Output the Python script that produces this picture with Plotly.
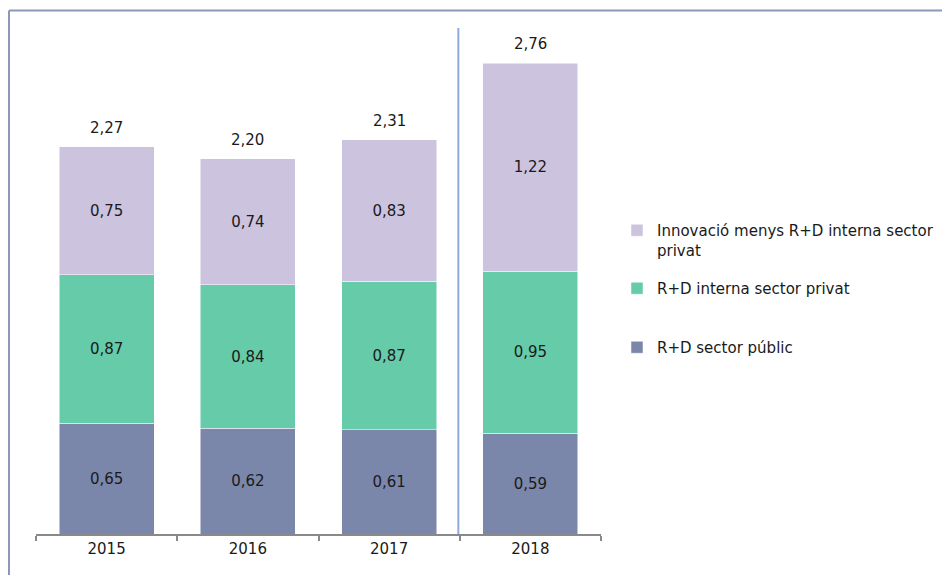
import plotly.graph_objects as go

years = ["2015", "2016", "2017", "2018"]
publico = [0.65, 0.62, 0.61, 0.59]
privat_rd = [0.87, 0.84, 0.87, 0.95]
innovacio = [0.75, 0.74, 0.83, 1.22]
totals = [2.27, 2.20, 2.31, 2.76]

names = ["R+D sector públic", "R+D interna sector privat",
         "Innovació menys R+D interna sector<br>privat"]
colors = ["#7A87AA", "#66CBA9", "#CCC3DF"]

FONT = "DejaVu Sans"
TXT = "#1a1a1a"

def fmt(v):
    return f"{v:.2f}".replace(".", ",")

fig = go.Figure()
series = [publico, privat_rd, innovacio]
legends = ["legend3", "legend2", "legend"]
for vals, name, col, lg in zip(series, names, colors, legends):
    fig.add_trace(go.Bar(
        x=years, y=vals, name=name,
        marker=dict(color=col, line=dict(color="white", width=0.5)),
        text=[fmt(v) for v in vals], textposition="inside",
        insidetextanchor="middle", textangle=0,
        textfont=dict(family=FONT, size=15, color=TXT),
        legend=lg, showlegend=True,
    ))

for i, t in enumerate(totals):
    fig.add_annotation(x=i, y=t, text=fmt(t), showarrow=False,
                       xref="x", yref="y",
                       yanchor="bottom", yshift=8,
                       font=dict(family=FONT, size=15, color=TXT))

# page body has an 8px offset; figure coords = screen - 8
W, H = 950, 575
L, T = 28, 20
R = W - 593
B = H - 526
pw, ph = W - L - R, H - T - B
ymax = ph / 170.65

# separator line between 2017 and 2018
fig.add_shape(type="line", xref="x", yref="paper", x0=2.49, x1=2.49, y0=0, y1=1,
              line=dict(color="#8FAADC", width=2))
# outer chart border (top and left visible)
bx = (1 - L) / pw
by = (526 - 2.5) / ph
fig.add_shape(type="line", xref="paper", yref="paper", x0=bx, x1=(W + 20 - L) / pw,
              y0=by, y1=by, line=dict(color="#8C98BA", width=2))
fig.add_shape(type="line", xref="paper", yref="paper", x0=bx, x1=bx,
              y0=by, y1=-(B + 20) / ph, line=dict(color="#8C98BA", width=2))

leg_common = dict(font=dict(family=FONT, size=15, color=TXT),
                  xanchor="left", yanchor="top", bgcolor="rgba(0,0,0,0)",
                  valign="top", itemwidth=30)
def ly(py):
    return (526 - py) / ph
lx = (609 - L) / pw
fig.update_layout(
    showlegend=True,
    legend=dict(x=lx, y=ly(206), **leg_common),
    legend2=dict(x=lx, y=ly(264), **leg_common),
    legend3=dict(x=lx, y=ly(323), **leg_common),
)

fig.update_layout(
    barmode="stack", bargap=0.327,
    width=W, height=H,
    margin=dict(l=L, r=R, t=T, b=B),
    plot_bgcolor="white", paper_bgcolor="white",
    uniformtext=dict(minsize=10, mode="show"),
    xaxis=dict(type="category", range=[-0.5, 3.5], showline=True,
               linecolor="#898989", linewidth=2,
               ticks="outside", tickson="boundaries", ticklen=5,
               tickcolor="#898989", tickwidth=2,
               tickfont=dict(family=FONT, size=15, color=TXT),
               showgrid=False, fixedrange=True),
    yaxis=dict(range=[0, ymax], visible=False, showgrid=False, fixedrange=True),
)

fig.write_html("out.html")
